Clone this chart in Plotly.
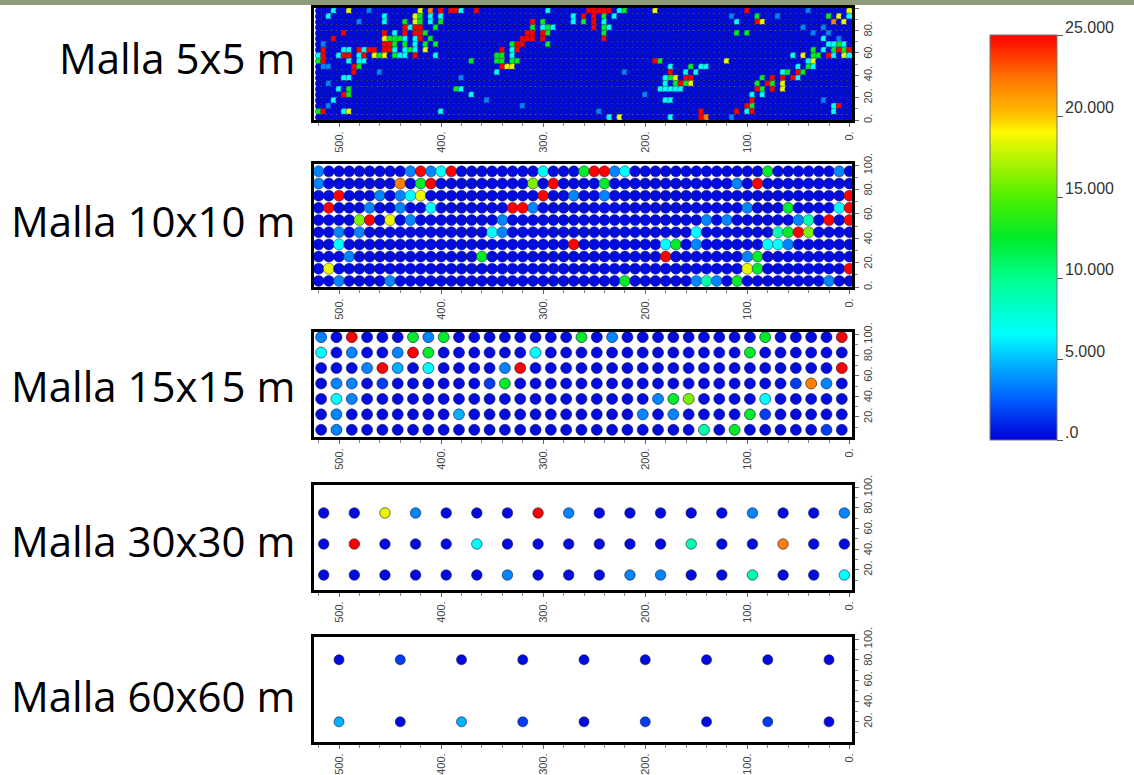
import plotly.graph_objects as go

# ---------------- colour classes (value, 0..25) ----------------
code_values = {'.': 0.3, 'd': 1.6, 'b': 3.5, 'B': 4.6, 'c': 6.5, 'a': 9.0,
               'g': 12.5, 'l': 16.0, 'y': 18.5, 'o': 22.0, 'r': 25.0}

panel_labels = ["Malla 5x5 m", "Malla 10x10 m", "Malla 15x15 m", "Malla 30x30 m", "Malla 60x60 m"]
x_tick_vals = [0, 100, 200, 300, 400, 500]
x_tick_text = ["0.", "100.", "200.", "300.", "400.", "500."]
y_tick_vals = [0, 20, 40, 60, 80, 100]
y_tick_text = ["0.", "20.", "40.", "60.", "80.", "100."]
cbar_vals = [0, 5, 10, 15, 20, 25]
cbar_text = [".0", "5.000", "10.000", "15.000", "20.000", "25.000"]

# ---------------- Malla 60x60: columns x = 500..20, rows y = 80, 20 ----------------
grid60_x = [500, 440, 380, 320, 260, 200, 140, 80, 20]
grid60_y = [80, 20]
grid60_rows = [".d.......",
               "B.Bd.d.d."]

# ---------------- Malla 30x30: columns x = 515..5, rows y = 75, 45, 15 ----------------
grid30_x = [515, 485, 455, 425, 395, 365, 335, 305, 275, 245, 215, 185, 155, 125, 95, 65, 35, 5]
grid30_y = [75, 45, 15]
grid30_rows = ["..yb...rb.....b..b",
               ".r...c......a..o..",
               "......b...bb..a..c"]

# ---------------- Malla 15x15: 35 columns x = 517.5..7.5, rows y = 97.5..7.5 ----------------
grid15_x = [517.5, 502.5, 487.5, 472.5, 457.5, 442.5, 427.5, 412.5, 397.5, 382.5, 367.5, 352.5,
            337.5, 322.5, 307.5, 292.5, 277.5, 262.5, 247.5, 232.5, 217.5, 202.5, 187.5, 172.5,
            157.5, 142.5, 127.5, 112.5, 97.5, 82.5, 67.5, 52.5, 37.5, 22.5, 7.5]
grid15_y = [97.5, 82.5, 67.5, 52.5, 37.5, 22.5, 7.5]
grid15_rows = ["b.r...gbg" + "." * 8 + "g.b" + "." * 9 + "g....r",
               "c.b..brg......c" + "." * 13 + "g......",
               "...brB.c....br" + "." * 20 + "r",
               ".bb.d......dg" + "." * 18 + "dob.",
               ".cb" + "." * 19 + "bgl....c.....",
               ".b.......B" + "." * 11 + "b.b....gd.....",
               ".b" + "." * 23 + "a.g.....d."]

# ---------------- Malla 10x10: 53 columns x = 520..0, rows y = 95..5 ----------------
grid10_x = [520, 510, 500, 490, 480, 470, 460, 450, 440, 430, 420, 410, 400, 390, 380, 370, 360,
            350, 340, 330, 320, 310, 300, 290, 280, 270, 260, 250, 240, 230, 220, 210, 200, 190,
            180, 170, 160, 150, 140, 130, 120, 110, 100, 90, 80, 70, 60, 50, 40, 30, 20, 10, 0]
grid10_y = [95, 85, 75, 65, 55, 45, 35, 25, 15, 5]
# non-background cells: (column number 1..53, colour class); all others read as '.'
grid10_cells = [
    [(1, 'b'), (10, 'b'), (11, 'r'), (12, 'b'), (13, 'c'), (14, 'r'), (23, 'c'), (27, 'g'), (28, 'r'),
     (29, 'r'), (30, 'b'), (31, 'c'), (45, 'g'), (52, 'b')],
    [(1, 'b'), (9, 'o'), (11, 'g'), (12, 'r'), (22, 'l'), (24, 'r'), (29, 'g'), (42, 'b'), (44, 'r')],
    [(3, 'r'), (7, 'b'), (9, 'b'), (10, 'c'), (11, 'y'), (23, 'r'), (26, 'b'), (29, 'b'), (53, 'r')],
    [(2, 'r'), (6, 'b'), (9, 'b'), (12, 'c'), (20, 'r'), (21, 'r'), (22, 'b'), (43, 'b'), (47, 'g'),
     (52, 'c'), (53, 'r')],
    [(5, 'l'), (6, 'r'), (8, 'y'), (10, 'b'), (19, 'b'), (39, 'b'), (41, 'b'), (48, 'b'), (49, 'a'),
     (51, 'r'), (53, 'r')],
    [(3, 'b'), (5, 'b'), (18, 'c'), (19, 'b'), (38, 'c'), (46, 'a'), (47, 'g'), (48, 'r'), (49, 'l')],
    [(3, 'c'), (26, 'r'), (35, 'c'), (36, 'g'), (38, 'b'), (45, 'c'), (46, 'c'), (47, 'b')],
    [(4, 'b'), (17, 'g'), (35, 'r'), (43, 'b'), (44, 'g')],
    [(2, 'y'), (43, 'y'), (44, 'g'), (53, 'r')],
    [(3, 'b'), (8, 'b'), (31, 'g'), (38, 'b'), (39, 'a'), (40, 'b'), (42, 'g'), (51, 'b')],
]

# ---------------- Malla 5x5: 105 columns x = 520..0, rows y = 97.5..2.5 ----------------
grid5_x = [520 - 5 * k for k in range(105)]
grid5_y = [97.5 - 5 * k for k in range(20)]
# non-background cells: (column index 0..104, colour class)
grid5_cells = [
    [(3, 'c'), (6, 'y'), (10, 'b'), (20, 'y'), (22, 'o'), (24, 'r'), (26, 'r'), (27, 'r'), (28, 'c'),
     (31, 'r'), (45, 'c'), (53, 'r'), (54, 'r'), (55, 'r'), (56, 'r'), (57, 'r'), (59, 'c'), (60, 'g'),
     (66, 'y'), (84, 'r'), (96, 'b'), (104, 'y')],
    [(2, 'c'), (13, 'c'), (19, 'y'), (20, 'g'), (22, 'c'), (24, 'c'), (50, 'c'), (52, 'r'), (54, 'r'),
     (56, 'g'), (58, 'c'), (81, 'b'), (86, 'g'), (90, 'b'), (100, 'g'), (102, 'y'), (104, 'c')],
    [(8, 'b'), (13, 'c'), (17, 'g'), (19, 'y'), (20, 'g'), (22, 'c'), (24, 'g'), (42, 'r'), (44, 'g'),
     (50, 'c'), (52, 'g'), (54, 'r'), (56, 'c'), (82, 'c'), (86, 'r'), (87, 'y'), (101, 'o'), (103, 'y')],
    [(17, 'r'), (18, 'c'), (19, 'r'), (20, 'r'), (23, 'g'), (42, 'g'), (44, 'c'), (45, 'g'), (46, 'c'),
     (54, 'r'), (56, 'g'), (57, 'c'), (95, 'b'), (99, 'b')],
    [(5, 'r'), (13, 'r'), (15, 'c'), (17, 'r'), (19, 'r'), (20, 'r'), (21, 'g'), (41, 'r'), (42, 'r'),
     (44, 'r'), (45, 'g'), (56, 'g'), (82, 'g'), (84, 'g'), (97, 'b'), (100, 'b')],
    [(3, 'r'), (13, 'y'), (14, 'g'), (15, 'g'), (16, 'g'), (17, 'c'), (19, 'c'), (20, 'r'), (22, 'g'),
     (40, 'r'), (41, 'r'), (42, 'r'), (44, 'r'), (56, 'r'), (99, 'c'), (102, 'b')],
    [(1, 'b'), (13, 'r'), (14, 'r'), (15, 'g'), (17, 'g'), (19, 'c'), (21, 'g'), (23, 'g'), (38, 'g'),
     (39, 'r'), (40, 'r'), (45, 'g'), (100, 'c'), (101, 'c'), (102, 'g'), (103, 'c')],
    [(1, 'r'), (5, 'c'), (6, 'c'), (8, 'r'), (9, 'c'), (10, 'r'), (11, 'r'), (13, 'r'), (14, 'r'),
     (15, 'c'), (17, 'c'), (18, 'g'), (19, 'c'), (21, 'y'), (36, 'r'), (38, 'c'), (39, 'r'), (97, 'g'),
     (99, 'c'), (101, 'g'), (102, 'r'), (103, 'g'), (104, 'r')],
    [(0, 'c'), (1, 'r'), (4, 'c'), (5, 'r'), (6, 'r'), (8, 'c'), (9, 'r'), (11, 'y'), (12, 'g'),
     (13, 'y'), (15, 'g'), (16, 'c'), (17, 'c'), (19, 'r'), (23, 'c'), (35, 'g'), (36, 'g'), (38, 'c'),
     (93, 'c'), (95, 'y'), (97, 'g'), (98, 'g'), (100, 'r'), (101, 'c'), (103, 'y'), (104, 'c')],
    [(0, 'g'), (1, 'r'), (6, 'c'), (8, 'c'), (9, 'c'), (30, 'g'), (35, 'g'), (36, 'g'), (38, 'g'),
     (39, 'g'), (66, 'r'), (67, 'g'), (80, 'y'), (96, 'c'), (97, 'y')],
    [(1, 'b'), (2, 'b'), (7, 'r'), (8, 'g'), (36, 'r'), (37, 'y'), (38, 'y'), (69, 'c'), (73, 'g'),
     (75, 'c'), (76, 'c'), (94, 'c'), (96, 'g'), (97, 'c')],
    [(7, 'r'), (12, 'b'), (35, 'c'), (60, 'b'), (69, 'r'), (72, 'c'), (74, 'c'), (91, 'c'), (92, 'g'),
     (94, 'r'), (95, 'g')],
    [(5, 'c'), (6, 'c'), (28, 'b'), (68, 'c'), (69, 'g'), (70, 'y'), (72, 'r'), (73, 'r'), (87, 'g'),
     (89, 'r'), (91, 'r'), (93, 'r'), (94, 'c')],
    [(2, 'b'), (68, 'c'), (70, 'g'), (71, 'r'), (72, 'g'), (73, 'y'), (86, 'g'), (88, 'r'), (89, 'g'),
     (91, 'y')],
    [(4, 'c'), (6, 'g'), (27, 'g'), (28, 'c'), (67, 'c'), (68, 'c'), (69, 'c'), (70, 'c'), (71, 'c'),
     (86, 'r'), (87, 'g'), (89, 'r'), (91, 'y')],
    [(5, 'r'), (6, 'g'), (30, 'c'), (64, 'b'), (85, 'c'), (87, 'c')],
    [(3, 'c'), (33, 'b'), (68, 'c'), (69, 'c'), (85, 'r'), (99, 'b')],
    [(2, 'b'), (40, 'b'), (84, 'r'), (85, 'g'), (101, 'c'), (102, 'r')],
    [(0, 'g'), (1, 'r'), (5, 'c'), (6, 'y'), (24, 'c'), (55, 'b'), (75, 'r'), (82, 'r'), (84, 'c'),
     (85, 'r'), (101, 'c')],
    [(57, 'c'), (59, 'y'), (69, 'c'), (75, 'r'), (76, 'o'), (81, 'b')],
]

# ---------------- colour scale ----------------
colorscale = [
    [0.00, "rgb(0,0,220)"], [0.10, "rgb(0,95,255)"], [0.20, "rgb(0,190,255)"],
    [0.26, "rgb(0,255,255)"], [0.40, "rgb(0,255,140)"], [0.50, "rgb(0,235,40)"],
    [0.60, "rgb(80,240,0)"], [0.72, "rgb(210,245,0)"], [0.76, "rgb(255,250,0)"],
    [0.80, "rgb(255,195,0)"], [0.90, "rgb(255,110,0)"], [1.00, "rgb(255,0,0)"],
]


def dense_points(xs, ys, rows):
    px, py, pv = [], [], []
    for j, row in enumerate(rows):
        for i, ch in enumerate(row):
            px.append(xs[i]); py.append(ys[j]); pv.append(code_values[ch])
    return px, py, pv


def sparse_points(xs, ys, cells, offset):
    px, py, pv = [], [], []
    for j, row_cells in enumerate(cells):
        lookup = {c - offset: ch for c, ch in row_cells}
        for i in range(len(xs)):
            px.append(xs[i]); py.append(ys[j]); pv.append(code_values[lookup.get(i, '.')])
    return px, py, pv


panels = [
    sparse_points(grid5_x, grid5_y, grid5_cells, 0),
    sparse_points(grid10_x, grid10_y, grid10_cells, 1),
    dense_points(grid15_x, grid15_y, grid15_rows),
    dense_points(grid30_x, grid30_y, grid30_rows),
    dense_points(grid60_x, grid60_y, grid60_rows),
]
marker_sizes = [6.6, 11, 11, 10.5, 10]
line_widths = [0.5, 0.6, 0.8, 0.8, 0.8]

W, H = 1134, 775
frames_px = [(8, 120), (164, 287), (332, 437), (485, 590), (637, 742)]
y_ranges = [[0, 100], [0, 101], [0.5, 102.5], [0.5, 102], [0.5, 102]]
label_y_px = [58, 220, 385, 540, 695]
x_dom = [314 / W, 852 / W]
cbar_top_px, cbar_bot_px = 35, 440

fig = go.Figure()
for k, (px, py, pv) in enumerate(panels):
    n = "" if k == 0 else str(k + 1)
    marker = dict(color=pv, cmin=0, cmax=25, colorscale=colorscale, size=marker_sizes[k],
                  line=dict(width=line_widths[k], color="rgba(20,20,70,0.75)"),
                  showscale=(k == 0))
    if k == 0:
        marker["colorbar"] = dict(
            x=990 / W, xanchor="left", xref="paper", xpad=0,
            y=1 - (cbar_top_px + cbar_bot_px) / 2 / H, yanchor="middle", ypad=0,
            len=(cbar_bot_px - cbar_top_px) / H, lenmode="fraction", thickness=67,
            outlinewidth=1, outlinecolor="#777",
            tickvals=cbar_vals, ticks="outside", ticklen=6,
            tickcolor="#555", showticklabels=False)
    fig.add_trace(go.Scatter(x=px, y=py, mode="markers", marker=marker,
                             xaxis="x" + n, yaxis="y" + n, hoverinfo="skip", showlegend=False))

    t, b = frames_px[k]
    fig.layout["xaxis" + n] = dict(
        domain=x_dom, anchor="y" + n, range=[524.5, -2.5],
        tickvals=x_tick_vals, ticktext=x_tick_text, tickangle=-90,
        ticks="outside", ticklen=4, tickcolor="#666",
        minor=dict(dtick=20, tick0=0, ticks="outside", ticklen=3, tickcolor="#888"),
        tickfont=dict(family="Arial", size=11, color="#444"),
        showline=True, linecolor="black", linewidth=3, mirror=True,
        showgrid=False, zeroline=False)
    fig.layout["yaxis" + n] = dict(
        domain=[1 - b / H, 1 - t / H], anchor="x" + n, range=y_ranges[k], side="right",
        tickvals=y_tick_vals, ticktext=y_tick_text, tickangle=-90,
        ticks="outside", ticklen=4, tickcolor="#666",
        minor=dict(dtick=10, tick0=0, ticks="outside", ticklen=3, tickcolor="#888"),
        tickfont=dict(family="Arial", size=11, color="#444"),
        showline=True, linecolor="black", linewidth=3, mirror=True,
        showgrid=False, zeroline=False)

    fig.add_annotation(text=panel_labels[k], xref="paper", yref="paper",
                       x=297 / W, y=1 - label_y_px[k] / H, xanchor="right", yanchor="middle",
                       showarrow=False, font=dict(family="Open Sans", size=42, color="black"))

# colour-bar labels sit just above their tick marks, as in the picture
for v, txt in zip(cbar_vals, cbar_text):
    frac = v / 25
    y_paper = (1 - cbar_bot_px / H) + frac * (cbar_bot_px - cbar_top_px) / H
    fig.add_annotation(text=txt, xref="paper", yref="paper", x=1063 / W, y=y_paper,
                       xanchor="left", yanchor="middle", yshift=8, showarrow=False,
                       font=dict(family="Arial", size=16, color="#333"))

fig.add_shape(type="rect", xref="paper", yref="paper", x0=0, x1=1, y0=1 - 5 / H, y1=1,
              fillcolor="#8e9b78", line=dict(width=0), layer="above")

fig.update_layout(width=W, height=H,
                  margin=dict(l=0, r=0, t=0, b=0, pad=0, autoexpand=False),
                  paper_bgcolor="white", plot_bgcolor="white")

fig.write_html("out.html", config={"displayModeBar": False},
               post_script="document.body.style.margin='0';")
